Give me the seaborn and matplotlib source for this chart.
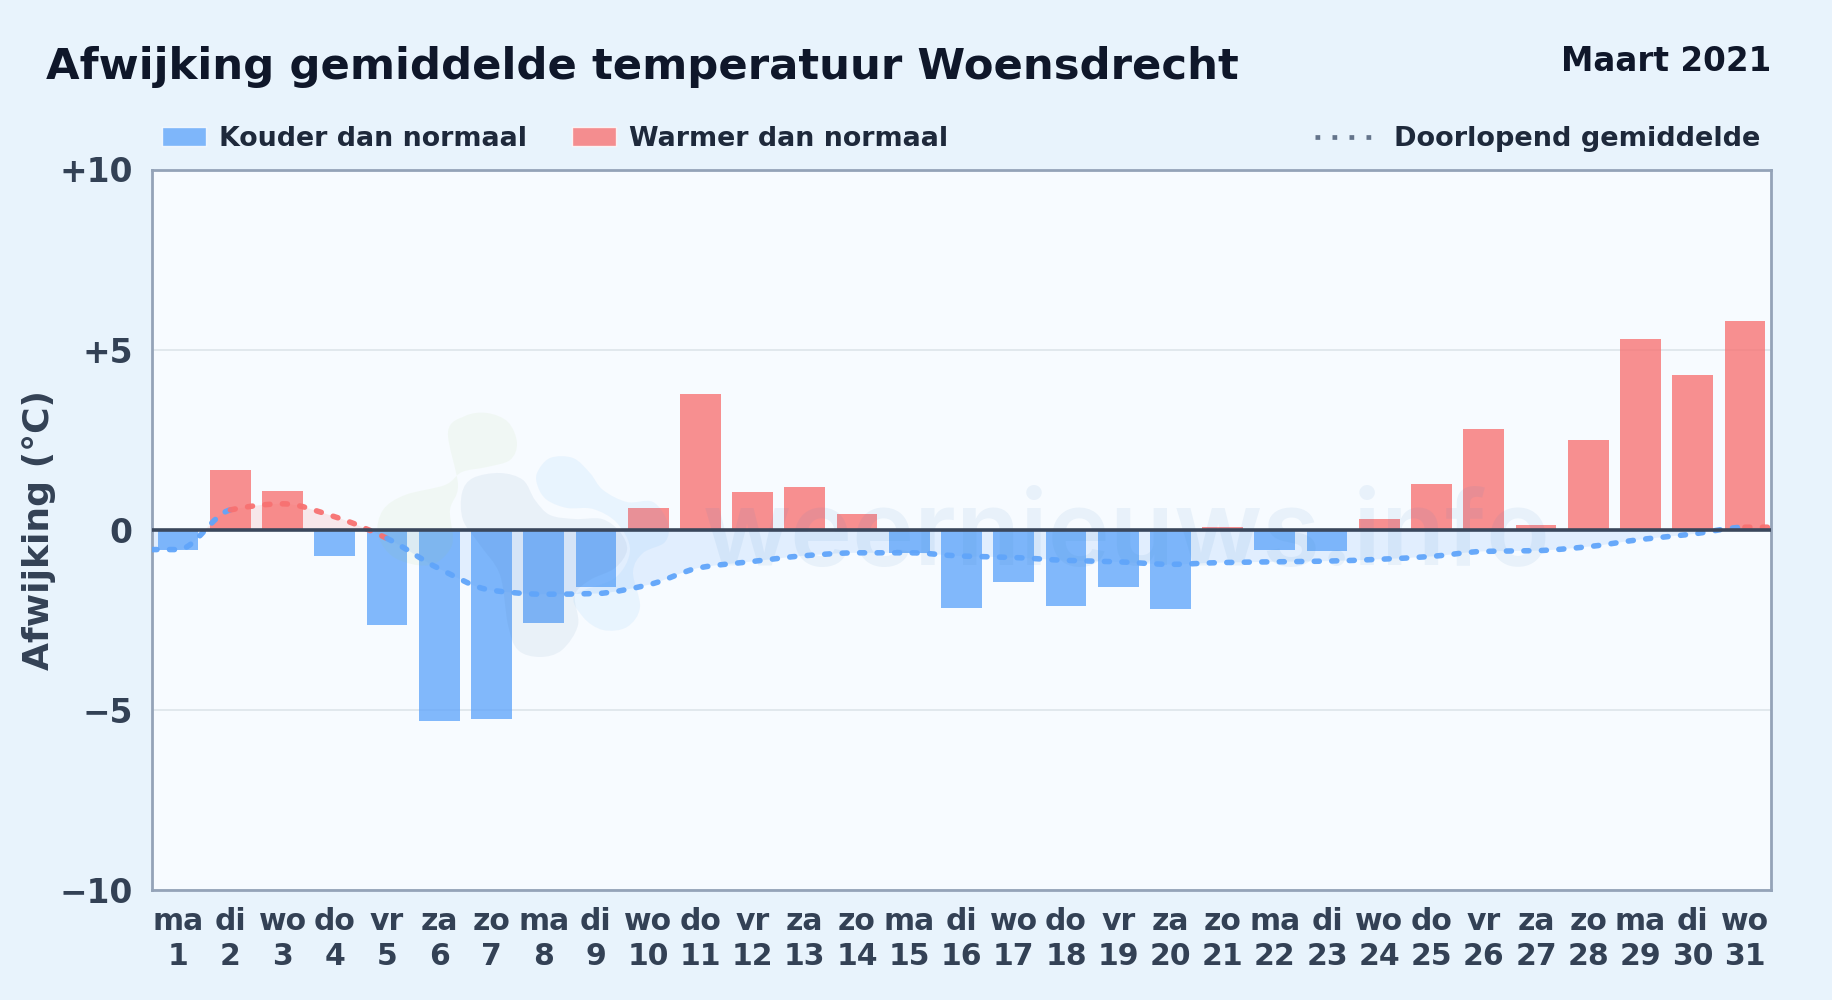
import numpy as np
import pandas as pd
import matplotlib
matplotlib.use("Agg")
import matplotlib.pyplot as plt
import seaborn as sns
from matplotlib.lines import Line2D
from matplotlib.patches import Patch, PathPatch, Rectangle
from matplotlib.path import Path

weekdays = ["ma", "di", "wo", "do", "vr", "za", "zo"] * 4 + ["ma", "di", "wo"]
days = list(range(1, 32))
afwijking = [-0.55, 1.65, 1.07, -0.72, -2.65, -5.3, -5.25, -2.6, -1.6, 0.6, 3.77,
             1.05, 1.18, 0.43, -0.65, -2.17, -1.45, -2.13, -1.58, -2.2, 0.08,
             -0.55, -0.58, 0.3, 1.27, 2.8, 0.13, 2.48, 5.3, 4.3, 5.8]
doorlopend = [-0.55, 0.55, 0.72, 0.36, -0.24, -1.08, -1.68, -1.79, -1.77, -1.53, -1.05,
              -0.88, -0.72, -0.64, -0.64, -0.73, -0.77, -0.85, -0.89, -0.96, -0.91,
              -0.89, -0.87, -0.82, -0.74, -0.60, -0.58, -0.47, -0.27, -0.12, 0.07]
yticks = [-10, -5, 0, 5, 10]
ytick_labels = ["\u221210", "\u22125", "0", "+5", "+10"]

BLUE = "#60a5fa"
RED = "#f87171"
W, H = 1832, 1000

# logo blobs behind the chart, pixel positions of the outline
blob_green = [(448, 432), (465, 416), (487, 413), (508, 422), (517, 443), (510, 460), (487, 467),
              (462, 472), (445, 485), (405, 495), (383, 510), (378, 535), (395, 558), (430, 565),
              (452, 545), (450, 510), (458, 485)]
blob_grey = [(462, 493), (473, 478), (500, 473), (523, 480), (535, 500), (550, 515), (575, 519),
             (602, 519), (620, 532), (627, 550), (615, 568), (590, 580), (575, 595), (578, 625),
             (562, 650), (540, 657), (518, 650), (508, 625), (500, 575), (480, 545), (463, 520)]
blob_blue = [(537, 473), (550, 458), (573, 458), (590, 473), (603, 490), (627, 502), (653, 502),
             (668, 523), (665, 542), (643, 553), (633, 572), (640, 607), (627, 627), (603, 630),
             (583, 617), (575, 595), (615, 578), (630, 550), (617, 523), (593, 509), (567, 508),
             (547, 500), (538, 487)]


def monotone_curve(x, y):
    # bezier control points of a monotone cubic through the points
    x, y = np.asarray(x, float), np.asarray(y, float)
    h = np.diff(x)
    s = np.diff(y) / h
    m = np.zeros_like(y)
    for i in range(1, len(y) - 1):
        if s[i - 1] * s[i] > 0:
            m[i] = 2 * s[i - 1] * s[i] / (s[i - 1] + s[i])
    segs = []
    for i in range(len(h)):
        segs.append([(x[i] + h[i] / 3, y[i] + m[i] * h[i] / 3),
                     (x[i + 1] - h[i] / 3, y[i + 1] - m[i + 1] * h[i] / 3),
                     (x[i + 1], y[i + 1])])
    return segs


def blob_patch(points, color, alpha):
    # closed catmull-rom outline through the points
    pts = np.array([(px / W, 1 - py / H) for px, py in points])
    n = len(pts)
    verts = [pts[0]]
    codes = [Path.MOVETO]
    for i in range(n):
        p0, p1, p2, p3 = pts[i - 1], pts[i], pts[(i + 1) % n], pts[(i + 2) % n]
        verts += [p1 + (p2 - p0) / 6, p2 - (p3 - p1) / 6, p2]
        codes += [Path.CURVE4] * 3
    return PathPatch(Path(verts, codes), fc=color, ec="none", alpha=alpha,
                     transform=fig.transFigure, zorder=3)


sns.set_theme(style="white")
plt.rcParams["font.family"] = ["DejaVu Sans"]
plt.rcParams["font.weight"] = "bold"

df = pd.DataFrame({
    "label": [f"{w}\n{d}" for w, d in zip(weekdays, days)],
    "afwijking": afwijking,
})
df["soort"] = np.where(df["afwijking"] < 0, "koud", "warm")

fig = plt.figure(figsize=(W / 100, H / 100), dpi=100, facecolor="#e8f3fc")
ax = fig.add_axes([152 / W, 1 - 890 / H, (1771 - 152) / W, (890 - 169.5) / H])
ax.set_facecolor("#f7fbff")

sns.barplot(data=df, x="label", y="afwijking", hue="soort", dodge=False, width=0.78,
            palette={"koud": BLUE, "warm": RED}, saturation=1, alpha=0.78, legend=False,
            linewidth=0, edgecolor="none", ax=ax, zorder=2)

ax.set_xlim(-0.5, 30.5)
ax.set_ylim(-10, 10)
ax.set_yticks(yticks, ytick_labels)
ax.tick_params(axis="x", length=0, labelsize=21.5, labelcolor="#334155", pad=12)
ax.tick_params(axis="y", length=0, labelsize=23.7, labelcolor="#334155", pad=14)
for t in ax.get_xticklabels():
    t.set_linespacing(1.26)
ax.set_xlabel("")
ax.set_ylabel("Afwijking (\u00b0C)", fontsize=26, fontweight="bold", color="#334155")
ax.yaxis.set_label_coords(56 / W, 1 - 530 / H, transform=fig.transFigure)
ax.yaxis.grid(True, color="#dfe6ec", lw=1.3, zorder=0)
ax.set_axisbelow(True)
for sp in ax.spines.values():
    sp.set_color("#94a3b8")
    sp.set_linewidth(2)
ax.axhline(0, color="#3a475c", lw=2.6, zorder=6)

# running mean: flat to the plot edges, colour follows the start of each segment
xs = [-0.5] + list(range(len(doorlopend))) + [30.5]
ys = [doorlopend[0]] + doorlopend + [doorlopend[-1]]
segs = monotone_curve(xs, ys)

above = Rectangle((-0.5, 0), 31, 10, transform=ax.transData)
below = Rectangle((-0.5, -10), 31, 10, transform=ax.transData)

fill_verts = [(xs[0], 0), (xs[0], ys[0])]
for s in segs:
    fill_verts += s
fill_verts += [(xs[-1], 0), (xs[0], 0)]
fill_codes = [Path.MOVETO, Path.LINETO] + [Path.CURVE4] * (3 * len(segs)) + [Path.LINETO, Path.CLOSEPOLY]
for clip, col in [(above, RED), (below, BLUE)]:
    fill = PathPatch(Path(fill_verts, fill_codes), fc=col, ec="none", alpha=0.14, zorder=1)
    ax.add_patch(fill)
    fill.set_clip_path(clip)

i = 0
while i < len(segs):
    warm = ys[i] >= 0
    verts = [(xs[i], ys[i])]
    while i < len(segs) and (ys[i] >= 0) == warm:
        verts += segs[i]
        i += 1
    codes = [Path.MOVETO] + [Path.CURVE4] * (len(verts) - 1)
    ax.add_patch(PathPatch(Path(verts, codes), fc="none", ec=RED if warm else BLUE, lw=4, alpha=0.95,
                           ls=(0, (0.9, 2.25)), capstyle="round", zorder=5))

# watermark
for pts, col, a in [(blob_green, "#9ccc65", 0.07), (blob_grey, "#3b6ea5", 0.07), (blob_blue, "#42a5f5", 0.08)]:
    ax.add_patch(blob_patch(pts, col, a))
ax.text(1127 / W, 1 - 565 / H, "weernieuws.info", transform=fig.transFigure, ha="center", va="baseline",
        fontsize=75.6, family="Inter", fontweight="semibold", color="#3b82c4", alpha=0.08, zorder=3)

# header
fig.text(46 / W, 1 - 79 / H, "Afwijking gemiddelde temperatuur Woensdrecht", fontsize=31.25,
         fontweight="bold", color="#0f172a", ha="left", va="baseline")
fig.text(1771 / W, 1 - 71 / H, "Maart 2021", fontsize=23.5, fontweight="bold", color="#0f172a",
         ha="right", va="baseline")

bar_handles = [Patch(fc=BLUE, alpha=0.78, label="Kouder dan normaal"),
               Patch(fc=RED, alpha=0.78, label="Warmer dan normaal")]
leg1 = ax.legend(handles=bar_handles, loc="center left", bbox_to_anchor=(162 / W, 1 - 139 / H),
                 bbox_transform=fig.transFigure, ncol=2, frameon=False, fontsize=19.4,
                 handlelength=1.63, handleheight=0.7, handletextpad=0.5, columnspacing=1.65,
                 borderpad=0, borderaxespad=0, labelcolor="#1e293b")
ax.add_artist(leg1)
line_handle = Line2D([], [], color="#64748b", lw=3.4, ls=(0, (1, 2.6)), label="Doorlopend gemiddelde")
ax.legend(handles=[line_handle], loc="center right", bbox_to_anchor=(1760 / W, 1 - 139 / H),
          bbox_transform=fig.transFigure, frameon=False, fontsize=19.5, handlelength=2.08,
          handletextpad=0.82, borderpad=0, borderaxespad=0, labelcolor="#1e293b")

fig.savefig("out.png", dpi=100, facecolor=fig.get_facecolor())
